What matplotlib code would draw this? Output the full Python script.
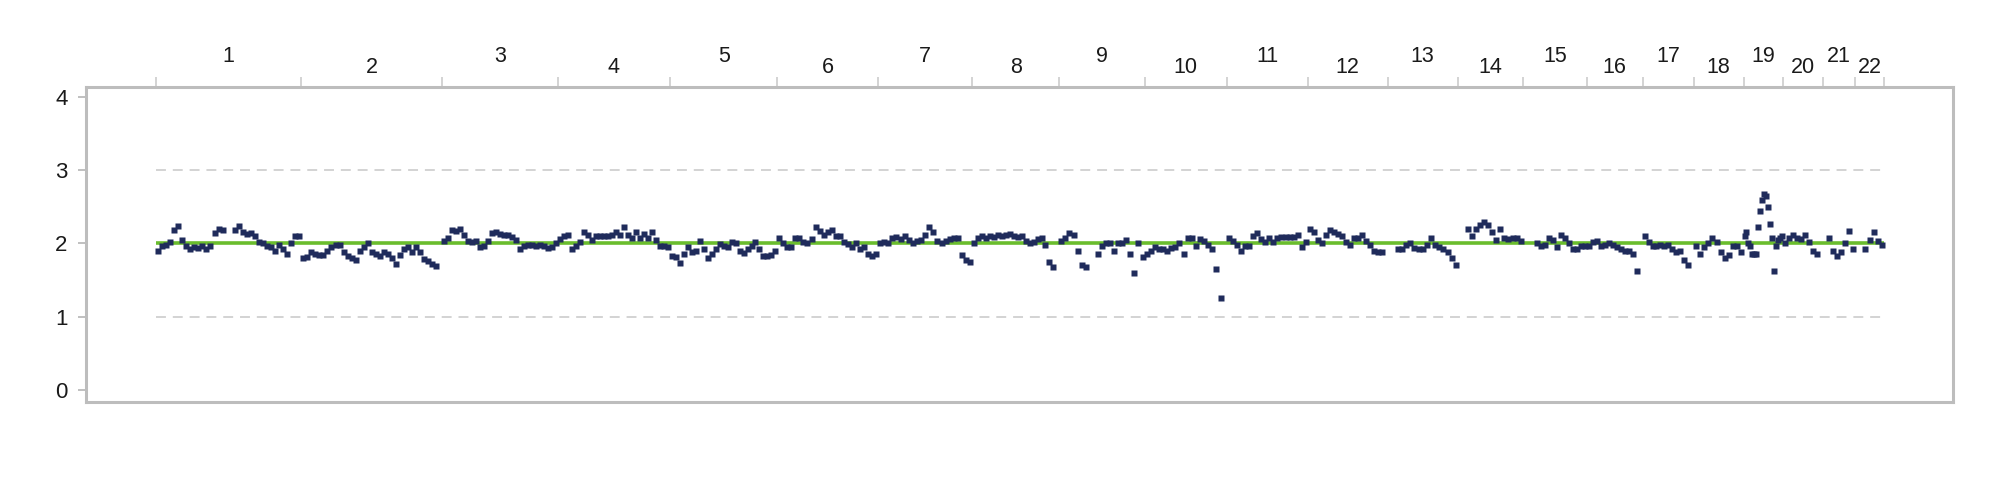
#!/usr/bin/env python3
# -*- coding: utf-8 -*-

"""Genome wide copy number plot, chromosomes 1-22."""

import numpy as np
import matplotlib
matplotlib.use('Agg')
import matplotlib.pyplot as plt

chrom_names = [str(i) for i in range(1, 23)]
#chromosome sizes in Mb, as spaced on the plot
chrom_sizes_mb = [242, 235, 192, 188, 178, 168, 157, 145, 142, 137, 135,
	133, 117, 108, 107, 93, 85, 83, 65, 68, 53, 48]

#copy number per bin, bins spread evenly along each chromosome (None = no probes)
cn_chr1 = [1.90, 1.96, 1.98, 2.02, 2.18, 2.24, 2.05, 1.97, 1.93, 1.95, 1.94, 1.96,
	1.93, 1.97, 2.14, 2.20, 2.18, None, None, 2.18, 2.24, 2.16, 2.13, 2.14,
	2.10, 2.02, 2.00, 1.97, 1.95, 1.90, 1.98, 1.92, 1.85, 2.00, 2.10, 2.10]
cn_chr2 = [1.80, 1.82, 1.88, 1.86, 1.84, 1.84, 1.90, 1.95, 1.98, 1.98, 1.88, 1.83,
	1.80, 1.77, 1.90, 1.95, 2.00, 1.88, 1.85, 1.83, 1.88, 1.85, 1.80, 1.72,
	1.84, 1.92, 1.95, 1.88, 1.95, 1.88, 1.79, 1.76, 1.72, 1.69, None]
cn_chr3 = [2.03, 2.08, 2.18, 2.17, 2.20, 2.12, 2.04, 2.02, 2.04, 1.95, 1.96, 2.03,
	2.14, 2.15, 2.13, 2.12, 2.12, 2.09, 2.05, 1.93, 1.97, 1.98, 1.98, 1.97,
	1.98, 1.97, 1.94, 1.95, 2.01]
cn_chr4 = [2.06, 2.10, 2.12, 1.92, 1.97, 2.02, 2.16, 2.12, 2.05, 2.10, 2.10, 2.10,
	2.10, 2.12, 2.15, 2.12, 2.22, 2.12, 2.08, 2.15, 2.08, 2.13, 2.08, 2.15,
	2.05, 1.97, 1.96, 1.95]
cn_chr5 = [1.83, 1.82, 1.74, 1.85, 1.95, 1.89, 1.90, 2.03, 1.92, 1.80, 1.85, 1.93,
	1.99, 1.96, 1.95, 2.02, 2.01, 1.90, 1.87, 1.92, 1.96, 2.02, 1.92, 1.83,
	1.83, 1.84, 1.90]
cn_chr6 = [2.07, 2.00, 1.95, 1.95, 2.08, 2.08, 2.02, 2.00, 2.06, 2.22, 2.17, 2.12,
	2.16, 2.18, 2.10, 2.10, 2.02, 1.99, 1.95, 2.00, 1.92, 1.95, 1.86, 1.83, 1.85]
cn_chr7 = [2.00, 2.02, 2.00, 2.07, 2.09, 2.06, 2.10, 2.05, 2.00, 2.04, 2.05, 2.12,
	2.22, 2.15, 2.04, 2.01, 2.03, 2.06, 2.08, 2.08, 1.84, 1.78, 1.75]
cn_chr8 = [2.00, 2.08, 2.10, 2.08, 2.10, 2.09, 2.12, 2.10, 2.11, 2.13, 2.10, 2.09,
	2.10, 2.04, 2.01, 2.02, 2.06, 2.08, 1.98, 1.75, 1.68, None]
cn_chr9 = [2.03, 2.08, 2.14, 2.12, 1.90, 1.70, 1.68, None, None, 1.85, 1.97, 2.00,
	2.00, 1.90, 2.00, 2.00, 2.05, 1.85, 1.60, 2.00, 1.82]
cn_chr10 = [1.85, 1.90, 1.95, 1.92, 1.92, 1.90, 1.94, 1.95, 2.00, 1.85, 2.08, 2.08,
	1.96, 2.06, 2.04, 1.98, 1.93, 1.65, 1.25, None]
cn_chr11 = [2.07, 2.03, 1.98, 1.90, 1.96, 1.97, 2.10, 2.14, 2.06, 2.02, 2.08, 2.02,
	2.07, 2.09, 2.09, 2.09, 2.09, 2.11, 1.95, 2.02]
cn_chr12 = [2.20, 2.15, 2.05, 2.00, 2.12, 2.18, 2.16, 2.13, 2.10, 2.02, 1.98, 2.08,
	2.08, 2.11, 2.04, 1.98, 1.90, 1.88, 1.88, None]
cn_chr13 = [None, None, 1.92, 1.92, 1.98, 2.00, 1.94, 1.92, 1.93, 1.98, 2.07, 1.98,
	1.95, 1.93, 1.88, 1.80, 1.70]
cn_chr14 = [None, None, 2.20, 2.10, 2.20, 2.25, 2.30, 2.25, 2.15, 2.05, 2.20, 2.08,
	2.06, 2.07, 2.07, 2.04]
cn_chr15 = [None, None, None, 2.00, 1.96, 1.98, 2.08, 2.05, 1.95, 2.12, 2.07, 2.00,
	1.92, 1.92, 1.97, 1.97]
cn_chr16 = [1.96, 2.02, 2.04, 1.96, 1.98, 2.00, 1.98, 1.95, 1.92, 1.90, 1.90, 1.85,
	1.62, None]
cn_chr17 = [2.10, 2.02, 1.96, 1.97, 1.98, 1.97, 1.98, 1.92, 1.88, 1.90, 1.78, 1.70, None]
cn_chr18 = [1.97, 1.86, 1.95, 2.00, 2.07, 2.02, 1.88, 1.80, 1.84, 1.96, 1.96, 1.88]
cn_chr19 = [2.10, 2.15, 2.00, 1.96, 1.85, 1.85, 1.86, 2.22, 2.45, 2.60, 2.67, 2.65,
	2.50, 2.27, 2.08, 1.62, 1.96, 2.05, 2.08, 2.10]
cn_chr20 = [2.00, 2.08, 2.12, 2.08, 2.06, 2.12, 2.02, 1.90, 1.85, None]
cn_chr21 = [None, 2.08, 1.90, 1.83, 1.88, 2.00, 2.17, 1.93]
cn_chr22 = [None, None, 1.92, 2.05, 2.15, 2.03, 1.98]

cn_all = [cn_chr1, cn_chr2, cn_chr3, cn_chr4, cn_chr5, cn_chr6, cn_chr7, cn_chr8,
	cn_chr9, cn_chr10, cn_chr11, cn_chr12, cn_chr13, cn_chr14, cn_chr15, cn_chr16,
	cn_chr17, cn_chr18, cn_chr19, cn_chr20, cn_chr21, cn_chr22]

normal_cn = 2
guide_cn = [1, 3]
y_ticks = [0, 1, 2, 3, 4]


def main():
	plt.rcParams['font.family'] = ['Liberation Sans', 'DejaVu Sans']

	sizes = np.array(chrom_sizes_mb, dtype=float)
	ends = np.cumsum(sizes)
	starts = ends - sizes
	genome_len = ends[-1]

	#place every bin at its center inside the chromosome
	xs = []
	ys = []
	for start, size, vals in zip(starts, sizes, cn_all):
		n = len(vals)
		for i, v in enumerate(vals):
			if v is None:
				continue
			xs.append(start + (i + 0.5) * size / n)
			ys.append(v)

	fig = plt.figure(figsize=(20, 5.03), dpi=100)
	ax = fig.add_axes([0.04275, 0.2008, 0.93375, 0.6262])

	grey = '#bdbdbd'
	for g in guide_cn:
		ax.plot([0, genome_len], [g, g], color='#c8c8c8', lw=1.1,
			linestyle=(0, (6.5, 4.5)), zorder=1)
	ax.plot([0, genome_len], [normal_cn, normal_cn], color='#6abd2d', lw=2.6,
		solid_capstyle='butt', zorder=2)

	ax.plot(xs, ys, 's', color='#1f2b5b', ms=4.4, mec='none', zorder=3)

	ax.set_xlim(-117.5, genome_len + 115)
	ax.set_ylim(-0.164, 4.136)

	#chromosome boundaries as ticks on top, labels staggered
	ax.xaxis.tick_top()
	ax.set_xticks(list(starts) + [genome_len])
	ax.set_xticklabels([])
	ax.tick_params(axis='x', length=7, width=1.1, color='#c8c8c8', direction='out')

	ax.set_yticks(y_ticks)
	ax.set_yticklabels([str(t) for t in y_ticks])
	ax.tick_params(axis='y', length=5.8, width=1.4, color='#c0c0c0',
		pad=7, labelsize=16, labelcolor='#1a1a1a')

	centers = (starts + ends) / 2
	for i, (c, name) in enumerate(zip(centers, chrom_names)):
		off = 22.3 if i % 2 == 0 else 13.7
		ax.annotate(name, xy=(c, 1), xycoords=('data', 'axes fraction'),
			xytext=(0, off), textcoords='offset points', ha='center', va='center',
			fontsize=15.5, color='#1a1a1a')

	for s in ax.spines.values():
		s.set_color(grey)
		s.set_linewidth(2.2)

	fig.savefig('out.png', dpi=100)


if __name__ == '__main__':
	main()
